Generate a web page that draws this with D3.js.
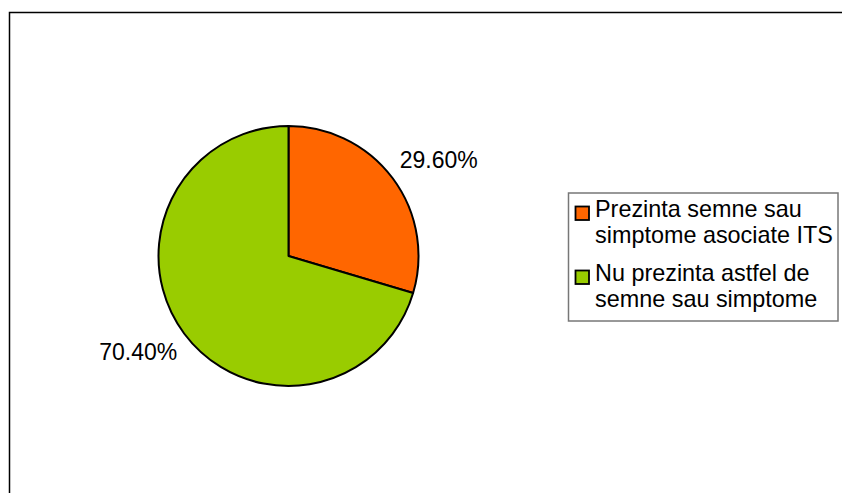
<!DOCTYPE html>
<html>
<head>
<meta charset="utf-8">
<script src="https://cdn.jsdelivr.net/npm/d3@7"></script>
<style>
  html, body { margin: 0; padding: 0; background: #fff; }
  svg { display: block; font-family: "Liberation Sans", Arial, sans-serif; }
</style>
</head>
<body>
<svg id="chart" width="842" height="493"></svg>
<script>
// Share of respondents with / without STI-associated signs or symptoms
const categories = [
  "Prezinta semne sau simptome asociate ITS",
  "Nu prezinta astfel de semne sau simptome"
];
const legendLines = [
  ["Prezinta semne sau", "simptome asociate ITS"],
  ["Nu prezinta astfel de", "semne sau simptome"]
];
const values = [29.6, 70.4];
const valueLabels = ["29.60%", "70.40%"];
const colors = ["#FF6600", "#99CC00"];

const svg = d3.select("#chart");
const fontSize = 23;
const legendFontSize = 23.4;

// Chart area frame (extends past the right and bottom edges)
svg.append("rect")
  .attr("x", 9.5).attr("y", 12.5)
  .attr("width", 900).attr("height", 600)
  .attr("fill", "#fff")
  .attr("stroke", "#000")
  .attr("stroke-width", 1.5);

// Pie
const cx = 288.5, cy = 256, r = 130;
const pie = d3.pie().sort(null).value(d => d)(values);
const arc = d3.arc().innerRadius(0).outerRadius(r);
const g = svg.append("g").attr("transform", `translate(${cx},${cy})`);

g.selectAll("path.slice")
  .data(pie)
  .join("path")
  .attr("class", "slice")
  .attr("d", arc)
  .attr("fill", (d, i) => colors[i])
  .attr("stroke", "#000")
  .attr("stroke-width", 2)
  .attr("stroke-linejoin", "round");

// Percentage labels placed outside the slices
const labelArc = d3.arc().innerRadius(160).outerRadius(160);
g.selectAll("text.value")
  .data(pie)
  .join("text")
  .attr("class", "value")
  .attr("transform", d => {
    const [x, y] = labelArc.centroid(d);
    return `translate(${x + Math.sign(x) * 22},${y})`;
  })
  .attr("text-anchor", "middle")
  .attr("dy", "0.35em")
  .attr("font-size", fontSize)
  .attr("fill", "#000")
  .text((d, i) => valueLabels[i]);

// Legend
const lg = svg.append("g");
lg.append("rect")
  .attr("x", 568.5).attr("y", 193)
  .attr("width", 269.5).attr("height", 128)
  .attr("fill", "#fff")
  .attr("stroke", "#777")
  .attr("stroke-width", 1.5);

const itemY = [217, 281];
const lineGap = 26;
legendLines.forEach((lines, i) => {
  lg.append("rect")
    .attr("x", 575.5).attr("y", itemY[i] - 10.5)
    .attr("width", 13.5).attr("height", 13.5)
    .attr("fill", colors[i])
    .attr("stroke", "#000")
    .attr("stroke-width", 1.8);
  const t = lg.append("text")
    .attr("font-size", legendFontSize)
    .attr("fill", "#000");
  lines.forEach((line, j) => {
    t.append("tspan")
      .attr("x", 595)
      .attr("y", itemY[i] + j * lineGap)
      .text(line);
  });
});
</script>
</body>
</html>
